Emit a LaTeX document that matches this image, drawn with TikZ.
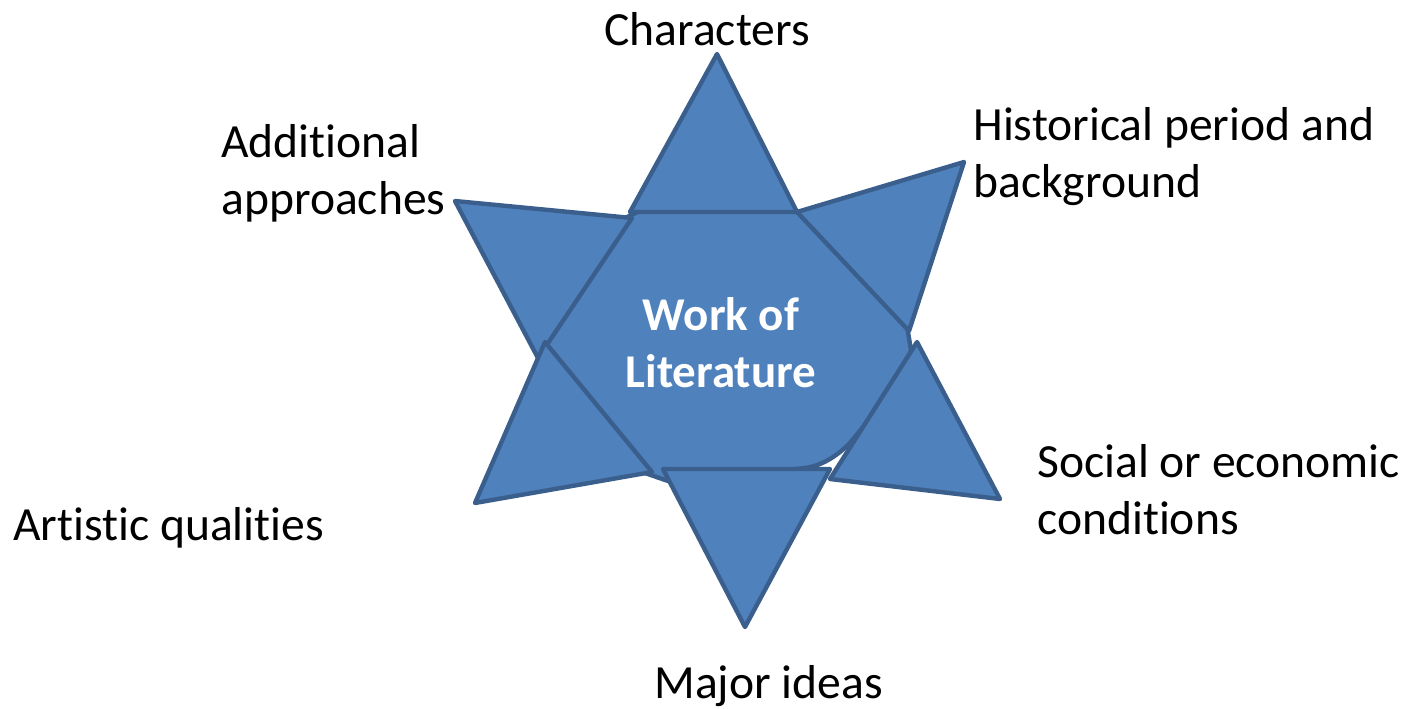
\documentclass[tikz,border=0pt]{standalone}
\usepackage{fontspec}
\setmainfont[Ligatures={NoCommon}]{Carlito}
\definecolor{starfill}{HTML}{4F81BD}
\definecolor{starline}{HTML}{3A5F8D}
\tikzset{
  piece/.style={fill=starfill, draw=starline, line width=2.2pt, line join=round},
  lbl/.style={inner sep=0pt, text=black, font=\fontsize{23.8}{28.5}\selectfont},
  core/.style={inner sep=0pt, text=white, font=\fontsize{23.5}{28.5}\selectfont\bfseries}
}
\begin{document}
\begin{tikzpicture}[x=0.5pt,y=-0.5pt]
\useasboundingbox (0,0) rectangle (1405,708);
% central body
\draw[piece] (625,218) -- (640,211) -- (797,211) -- (907,326) -- (911,350) -- (903,378)
  -- (850,443) .. controls (835,458) and (820,466) .. (805,468) -- (700,480) -- (668,481)
  -- (642,472) -- (545,344) -- cycle;
% triangles
\draw[piece] (717,54) -- (797,212) -- (630,212) -- cycle;          % Characters
\draw[piece] (797,212) -- (964,162) -- (909,331) -- cycle;         % Historical
\draw[piece] (917,342) -- (1000,499) -- (830,479) -- cycle;        % Social
\draw[piece] (455,201) -- (632,218) -- (538,358) -- cycle;         % Additional
\draw[piece] (545,342) -- (652,472) -- (475,503) -- cycle;         % Artistic
\draw[piece] (663,469) -- (830,469) -- (745,627) -- cycle;         % Major ideas
% labels
\node[lbl, anchor=base] (characters) at (707,45) {Characters};
\node[lbl, anchor=base west] (additional) at (221,157)
  {\begin{tabular}[t]{@{}l@{}}Additional\\approaches\end{tabular}};
\node[lbl, anchor=base west] (historical) at (973,140)
  {\begin{tabular}[t]{@{}l@{}}Historical period and\\background\end{tabular}};
\node[lbl, anchor=base west] (social) at (1037,477)
  {\begin{tabular}[t]{@{}l@{}}Social or economic\\conditions\end{tabular}};
\node[lbl, anchor=base west] (artistic) at (13,540) {Artistic qualities};
\node[lbl, anchor=base west] (major) at (654,698) {Major ideas};
\node[core, anchor=base] (work) at (721,330)
  {\begin{tabular}[t]{@{}c@{}}Work of\\Literature\end{tabular}};
\end{tikzpicture}
\end{document}
